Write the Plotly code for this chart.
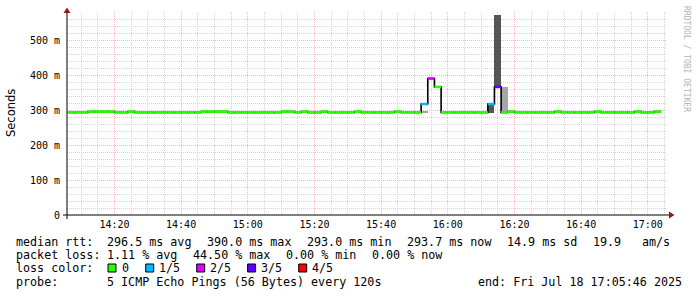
import plotly.graph_objects as go
import pandas as pd

# ---------------- data ----------------
step_start = "2025-07-18 14:06:00"      # first 2-minute step
step_minutes = 2
median_ms = [
    293.3, 293.3, 293.3, 295.5, 295.5, 295.5, 295.5, 293.3, 293.3, 295.5,
    293.3, 293.3, 293.3, 293.3, 293.3, 293.3, 293.3, 293.3, 293.3, 293.3,
    295.5, 295.5, 295.5, 295.5, 293.3, 293.3, 293.3, 293.3, 293.3, 293.3,
    293.3, 293.3, 295.5, 295.5, 293.3, 295.5, 293.3, 293.3, 295.5, 293.3,
    293.3, 293.3, 293.3, 295.5, 293.3, 293.3, 293.3, 293.3, 293.3, 295.5,
    293.3, 293.3, 293.3, 317.0, 390.0, 366.0, 293.3, 293.3, 293.3, 293.3,
    293.3, 293.3, 293.3, 317.0, 366.0, 293.3, 295.5, 293.3, 293.3, 293.3,
    293.3, 293.3, 293.3, 295.5, 293.3, 293.3, 293.3, 293.3, 293.3, 295.5,
    293.3, 293.3, 293.3, 293.3, 293.3, 295.5, 293.3, 293.3, 295.5,
]
# loss bucket per step (0 -> "0", 1 -> "1/5", 2 -> "2/5", 3 -> "3/5", 4 -> "4/5")
loss_bucket = [
    0, 0, 0, 0, 0, 0, 0, 0, 0, 0,
    0, 0, 0, 0, 0, 0, 0, 0, 0, 0,
    0, 0, 0, 0, 0, 0, 0, 0, 0, 0,
    0, 0, 0, 0, 0, 0, 0, 0, 0, 0,
    0, 0, 0, 0, 0, 0, 0, 0, 0, 0,
    0, 0, 0, 1, 2, 0, 0, 0, 0, 0,
    0, 0, 0, 1, 3, 0, 0, 0, 0, 0,
    0, 0, 0, 0, 0, 0, 0, 0, 0, 0,
    0, 0, 0, 0, 0, 0, 0, 0, 0,
]
loss_labels = ["0", "1/5", "2/5", "3/5", "4/5"]

# smoke (ping spread) blocks
smoke_time = ["2025-07-18 15:52", "2025-07-18 16:12", "2025-07-18 16:14", "2025-07-18 16:16"]
smoke_low_ms = [292.0, 292.0, 366.0, 293.0]
smoke_high_ms = [296.0, 318.0, 571.0, 366.0]
smoke_shade = [0, 1, 1, 0]   # 0 light, 1 dark

y_tick_vals = [0, 0.1, 0.2, 0.3, 0.4, 0.5]
y_tick_text = ["0", "100 m", "200 m", "300 m", "400 m", "500 m"]

legend_rows = [
    ["median rtt:", "296.5 ms avg", "390.0 ms max", "293.0 ms min", "293.7 ms now",
     "14.9 ms sd", "19.9", "am/s"],
    ["packet loss:", "1.11 % avg", "44.50 % max", "0.00 % min", "0.00 % now"],
    ["probe:", "5 ICMP Echo Pings (56 Bytes) every 120s"],
]
end_text = "end: Fri Jul 18 17:05:46 2025"

# ---------------- styles ----------------
LOSS_COLORS = ["#26ff00", "#00b8ff", "#dd00ff", "#5e00ff", "#ff0000"]
SMOKE_COLORS = ["#a6a6a6", "#555555"]
GRID = "#d4d4d4"
MGRID = "#f3b9b9"
ARROW = "#8b1c1c"
MONO = "DejaVu Sans Mono"

L, R, T, B = 67, 30, 12, 82
W, H = 697, 297
PW, PH = W - L - R, H - T - B


def px(x):
    return (x - L) / PW


def py(y):
    return (H - B - y) / PH


t0 = pd.Timestamp(step_start)
step = pd.Timedelta(minutes=step_minutes)
edges = [t0 + step * i for i in range(len(median_ms) + 1)]

fig = go.Figure()

# smoke
for k in (0, 1):
    xs, bases, hs = [], [], []
    for t, lo, hi, s in zip(smoke_time, smoke_low_ms, smoke_high_ms, smoke_shade):
        if s == k:
            xs.append(pd.Timestamp(t) + step / 2)
            bases.append(lo / 1000)
            hs.append((hi - lo) / 1000)
    fig.add_trace(go.Bar(x=xs, y=hs, base=bases, width=step_minutes * 60 * 1000,
                         marker=dict(color=SMOKE_COLORS[k], line=dict(width=0)),
                         hoverinfo="skip"))

# black step line (vertical connectors)
fig.add_trace(go.Scatter(x=edges, y=[v / 1000 for v in median_ms] + [median_ms[-1] / 1000],
                         mode="lines", line=dict(color="black", width=1.6, shape="hv"),
                         hoverinfo="skip"))

# coloured median segments
for k, col in enumerate(LOSS_COLORS):
    xs, ys = [], []
    for i, (v, lb) in enumerate(zip(median_ms, loss_bucket)):
        if lb == k:
            xs += [edges[i], edges[i + 1], None]
            ys += [v / 1000, v / 1000, None]
    if xs:
        fig.add_trace(go.Scatter(x=xs, y=ys, mode="lines",
                                 line=dict(color=col, width=2.6), hoverinfo="skip"))

fig.update_layout(
    width=W, height=H, margin=dict(l=L, r=R, t=T, b=B),
    paper_bgcolor="white", plot_bgcolor="white", showlegend=False,
    barmode="overlay", bargap=0,
    xaxis=dict(
        type="date", range=["2025-07-18 14:05:46", "2025-07-18 17:05:46"],
        tick0="2025-07-18 14:00", dtick=20 * 60 * 1000, tickformat="%H:%M",
        showgrid=True, gridcolor=MGRID, gridwidth=1, griddash="1px,1px",
        minor=dict(dtick=5 * 60 * 1000, showgrid=True, gridcolor=GRID,
                   gridwidth=1, griddash="1px,1px"),
        zeroline=False, showline=False, ticks="",
        tickfont=dict(family=MONO, size=10, color="black"),
        ticklabelstandoff=2, fixedrange=True,
    ),
    yaxis=dict(
        range=[0, 0.58], tickmode="array", tickvals=y_tick_vals, ticktext=y_tick_text,
        showgrid=True, gridcolor=MGRID, gridwidth=1, griddash="1px,1px",
        minor=dict(tick0=0, dtick=0.02, showgrid=True, gridcolor=GRID,
                   gridwidth=1, griddash="1px,1px"),
        zeroline=False, showline=False, ticks="",
        tickfont=dict(family=MONO, size=10, color="black"),
        ticklabelstandoff=6, fixedrange=True,
    ),
)

shapes = []
# axes
shapes.append(dict(type="line", xref="paper", yref="paper", x0=px(63), x1=px(670),
                   y0=py(215), y1=py(215), line=dict(color="black", width=1)))
shapes.append(dict(type="line", xref="paper", yref="paper", x0=px(67), x1=px(67),
                   y0=py(219), y1=py(10), line=dict(color="black", width=1)))
# arrows
shapes.append(dict(type="path", xref="paper", yref="paper",
                   path=f"M {px(63.5)} {py(13)} L {px(70.5)} {py(13)} L {px(67)} {py(7.5)} Z",
                   fillcolor=ARROW, line=dict(width=0)))
shapes.append(dict(type="path", xref="paper", yref="paper",
                   path=f"M {px(669)} {py(211.5)} L {px(669)} {py(218.5)} L {px(674.5)} {py(215)} Z",
                   fillcolor=ARROW, line=dict(width=0)))

annotations = []


def txt(s, x, y, size=11.7, anchor="left", family=MONO, color="black", angle=0):
    annotations.append(dict(text=s, xref="paper", yref="paper", x=px(x), y=py(y),
                            xanchor=anchor, yanchor="middle", showarrow=False,
                            borderpad=0, borderwidth=0, textangle=angle,
                            font=dict(family=family, size=size, color=color)))


row_y = [241.5, 255.0, 268.3, 281.7]
row1_x = [15.5, 107.0, 207.0, 307.0, 407.0, 507.4, 592.7, 641.6]
row2_x = [15.5, 107.0, 193.0, 286.2, 372.0]
row4_x = [15.5, 107.0]
for s, x in zip(legend_rows[0], row1_x):
    txt(s, x, row_y[0])
for s, x in zip(legend_rows[1], row2_x):
    txt(s, x, row_y[1])
for s, x in zip(legend_rows[2], row4_x):
    txt(s, x, row_y[3])
txt(end_text, 681.5, row_y[3], anchor="right")

# loss colour legend
txt("loss color:", 15.5, row_y[2])
box_x = [108, 145.7, 196.7, 247.6, 298.7]
lab_x = [122.4, 159.4, 210.2, 261.4, 312.4]
for col, lab, bx, lx in zip(LOSS_COLORS, loss_labels, box_x, lab_x):
    shapes.append(dict(type="rect", xref="paper", yref="paper",
                       x0=px(bx), x1=px(bx + 8), y0=py(264), y1=py(272),
                       fillcolor=col, line=dict(color="black", width=1)))
    txt(lab, lx, row_y[2])

# axis title and watermark
txt("Seconds", 10.5, 113.5, size=11.5, anchor="center", family="DejaVu Sans", angle=-90)
txt("RRDTOOL / TOBI OETIKER", 687, 59, size=8, anchor="center", color="#b4b4b4", angle=90)

fig.update_layout(shapes=shapes, annotations=annotations)
fig.write_html("out.html")
